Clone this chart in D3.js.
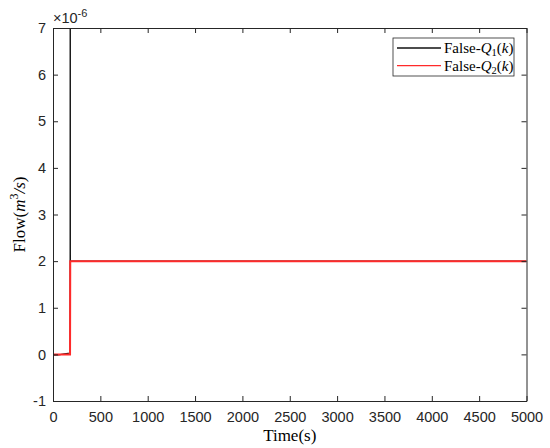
<!DOCTYPE html>
<html>
<head>
<meta charset="utf-8">
<script src="https://cdn.jsdelivr.net/npm/d3@7"></script>
<style>
  body { margin: 0; background: #fff; }
  svg { display: block; }
  .tick text { font-family: "Liberation Sans", Arial, sans-serif; font-size: 14.5px; fill: #262626; }
  .tex { font-family: "Liberation Serif", "Times New Roman", serif; fill: #000; }
</style>
</head>
<body>
<svg id="chart"></svg>
<script>
// values in units of 1e-6 m^3/s
const timeQ1 = [0, 60, 120, 180, 182, 184, 5000];
const flowQ1 = [-0.02, -0.01, 0.01, 0.03, 40, 2, 2];
const timeQ2 = [0, 180, 182, 5000];
const flowQ2 = [0, 0, 2, 2];
const xTicks = [0, 500, 1000, 1500, 2000, 2500, 3000, 3500, 4000, 4500, 5000];
const yTicks = [-1, 0, 1, 2, 3, 4, 5, 6, 7];

const width = 550, height = 448;
const margin = {top: 28, right: 23.5, bottom: 47, left: 53};
const innerW = width - margin.left - margin.right;
const innerH = height - margin.top - margin.bottom;
const axisColor = "#262626";
const redColor = "#ff2a2a";

const svg = d3.select("#chart").attr("width", width).attr("height", height);

const x = d3.scaleLinear().domain([0, 5000]).range([0, innerW]);
const y = d3.scaleLinear().domain([-1, 7]).range([innerH, 0]);

const g = svg.append("g").attr("transform", `translate(${margin.left},${margin.top})`);

g.append("clipPath").attr("id", "plotClip")
  .append("rect").attr("width", innerW).attr("height", innerH);

const line = d3.line().x(d => x(d[0])).y(d => y(d[1]));

const plot = g.append("g").attr("clip-path", "url(#plotClip)");
plot.append("path")
  .datum(d3.zip(timeQ1, flowQ1))
  .attr("d", line)
  .attr("fill", "none")
  .attr("stroke", "#111")
  .attr("stroke-width", 1.1);
plot.append("path")
  .datum(d3.zip(timeQ2, flowQ2))
  .attr("d", line)
  .attr("fill", "none")
  .attr("stroke", redColor)
  .attr("stroke-width", 2);

// axes, MATLAB style: ticks inside, box on
const tickLen = 5;
const fmt = d => String(d); // plain hyphen minus like MATLAB
const styleAxis = sel => {
  sel.select(".domain").attr("stroke", axisColor);
  sel.selectAll(".tick line").attr("stroke", axisColor);
};
g.append("g").attr("transform", `translate(0,${innerH})`)
  .call(d3.axisBottom(x).tickValues(xTicks).tickSizeInner(-tickLen).tickSizeOuter(0).tickPadding(11).tickFormat(fmt))
  .call(styleAxis);
g.append("g")
  .call(d3.axisTop(x).tickValues(xTicks).tickSizeInner(-tickLen).tickSizeOuter(0).tickFormat(""))
  .call(styleAxis);
g.append("g")
  .call(d3.axisLeft(y).tickValues(yTicks).tickSizeInner(-tickLen).tickSizeOuter(0).tickPadding(7).tickFormat(fmt))
  .call(styleAxis);
g.append("g").attr("transform", `translate(${innerW},0)`)
  .call(d3.axisRight(y).tickValues(yTicks).tickSizeInner(-tickLen).tickSizeOuter(0).tickFormat(""))
  .call(styleAxis);

// exponent label
const expo = svg.append("text")
  .attr("x", margin.left)
  .attr("y", 23)
  .attr("font-family", "Liberation Sans, Arial, sans-serif")
  .attr("font-size", 14.5)
  .attr("fill", axisColor);
expo.append("tspan").text("\u00d710");
expo.append("tspan").attr("dy", -6).attr("font-size", 11).text("-6");

// axis labels
svg.append("text").attr("class", "tex")
  .attr("x", margin.left + innerW / 2)
  .attr("y", 441)
  .attr("text-anchor", "middle")
  .attr("font-size", 17)
  .text("Time(s)");

const yl = svg.append("text").attr("class", "tex")
  .attr("transform", `translate(25,${margin.top + innerH / 2}) rotate(-90)`)
  .attr("text-anchor", "middle")
  .attr("font-size", 17);
yl.append("tspan").text("Flow(");
yl.append("tspan").attr("font-style", "italic").text("m");
yl.append("tspan").attr("dy", -7).attr("font-size", 12).text("3");
yl.append("tspan").attr("dy", 7).attr("font-style", "italic").text("/s");
yl.append("tspan").text(")");

// legend
const legendItems = [
  {sub: "1", color: "#111"},
  {sub: "2", color: redColor}
];
const lg = svg.append("g").attr("transform", "translate(393,38)");
lg.append("rect")
  .attr("width", 121).attr("height", 38)
  .attr("fill", "#fff").attr("stroke", axisColor).attr("stroke-width", 0.8);
legendItems.forEach((item, i) => {
  const cy = 10 + i * 17.6;
  lg.append("line")
    .attr("x1", 4).attr("x2", 48).attr("y1", cy).attr("y2", cy)
    .attr("stroke", item.color).attr("stroke-width", 1.3);
  const t = lg.append("text").attr("class", "tex")
    .attr("x", 51).attr("y", cy + 5)
    .attr("font-size", 15);
  t.append("tspan").text("False-");
  t.append("tspan").attr("font-style", "italic").text("Q");
  t.append("tspan").attr("dy", 3).attr("font-size", 10.5).text(item.sub);
  t.append("tspan").attr("dy", -3).text("(");
  t.append("tspan").attr("font-style", "italic").text("k");
  t.append("tspan").text(")");
});
</script>
</body>
</html>
